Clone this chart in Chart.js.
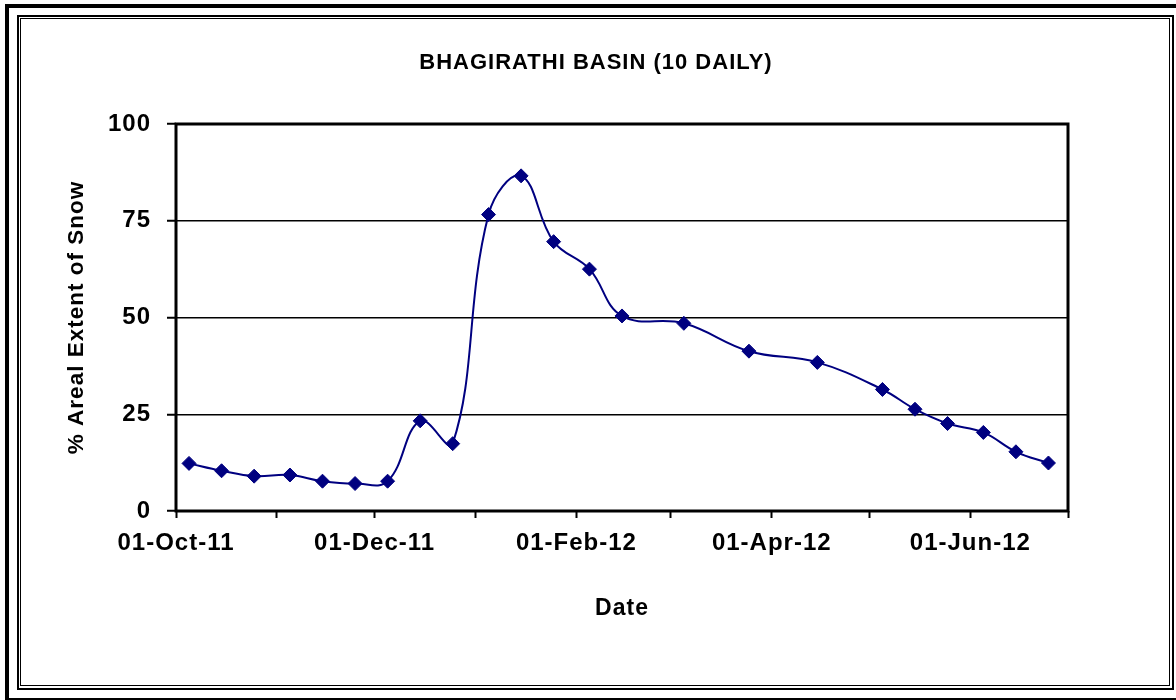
<!DOCTYPE html>
<html>
<head>
<meta charset="utf-8">
<title>Bhagirathi Basin snow cover</title>
<script src="https://cdn.jsdelivr.net/npm/chart.js@4/dist/chart.umd.min.js"></script>
<style>
  html, body { margin: 0; padding: 0; background: #fff; overflow: hidden; }
  body { width: 1176px; height: 700px; position: relative; }
  .frame { position: absolute; box-sizing: border-box; border-style: solid; border-color: #000; }
  #outer { left: 5px; top: 4px; width: 1200px; height: 696px; border-width: 4px 0 2px 4px; }
  #innerA { left: 17px; top: 15px; width: 1157px; height: 675px; border-width: 2px; }
  #innerB { left: 20px; top: 18px; width: 1150px; height: 668px; border-width: 1px; }
  #chart { position: absolute; left: 0; top: 0; }
</style>
</head>
<body>
<div class="frame" id="outer"></div>
<div class="frame" id="innerA"></div>
<div class="frame" id="innerB"></div>
<canvas id="chart" width="1176" height="700"></canvas>
<script>
// Ten-daily areal snow cover, Bhagirathi basin, Oct 2011 - Jun 2012
const chartTitle = 'BHAGIRATHI BASIN (10 DAILY)';
const startDate = '2011-10-01';
const obsDates = [
  '2011-10-05', '2011-10-15', '2011-10-25',
  '2011-11-05', '2011-11-15', '2011-11-25',
  '2011-12-05', '2011-12-15', '2011-12-25',
  '2012-01-05', '2012-01-15', '2012-01-25',
  '2012-02-05', '2012-02-15',
  '2012-03-05', '2012-03-25',
  '2012-04-15',
  '2012-05-05', '2012-05-15', '2012-05-25',
  '2012-06-05', '2012-06-15', '2012-06-25'
];
const snowCover = [
  12.3, 10.4, 9.0,
  9.3, 7.7, 7.1,
  7.7, 23.3, 17.4,
  76.6, 86.6, 69.6,
  62.5, 50.4,
  48.5, 41.3,
  38.4,
  31.4, 26.3, 22.6,
  20.3, 15.3, 12.4
];
const tickDates = [
  '2011-10-01', '2011-11-01', '2011-12-01', '2012-01-01', '2012-02-01',
  '2012-03-01', '2012-04-01', '2012-05-01', '2012-06-01', '2012-07-01'
];
const tickLabels = [
  '01-Oct-11', '', '01-Dec-11', '', '01-Feb-12',
  '', '01-Apr-12', '', '01-Jun-12', ''
];
const yMin = 0, yMax = 100, yStep = 25;

const dayOf = d => (Date.parse(d) - Date.parse(startDate)) / 864e5;
const tickDays = tickDates.map(dayOf);
const points = obsDates.map((d, i) => ({ x: dayOf(d), y: snowCover[i] }));

const FONT = '"Liberation Sans", Arial, sans-serif';

// Letter spacing for every text run, the black plot frame, and the title
// centred over the whole framed chart object.
const chartDecor = {
  id: 'chartDecor',
  beforeDraw(chart) {
    chart.ctx.letterSpacing = '1px';
  },
  beforeDatasetsDraw(chart) {
    const { ctx, chartArea: a } = chart;
    ctx.save();
    ctx.strokeStyle = '#000';
    ctx.lineWidth = 3;
    ctx.strokeRect(a.left, a.top, a.right - a.left, a.bottom - a.top);
    ctx.restore();
  },
  afterDraw(chart, args, opts) {
    const { ctx } = chart;
    ctx.save();
    ctx.font = `bold ${opts.size}px ${FONT}`;
    ctx.fillStyle = '#000';
    ctx.textAlign = 'center';
    ctx.textBaseline = 'middle';
    ctx.fillText(opts.text, opts.x, opts.y);
    ctx.restore();
  }
};

new Chart(document.getElementById('chart'), {
  type: 'line',
  data: {
    datasets: [{
      label: 'Snow cover',
      data: points,
      borderColor: '#000080',
      backgroundColor: '#000080',
      borderWidth: 2,
      tension: 0.4,
      pointStyle: 'rectRot',
      pointRadius: 7,
      pointHoverRadius: 7,
      pointBackgroundColor: '#000080',
      pointBorderColor: '#000080',
      pointBorderWidth: 1
    }]
  },
  options: {
    responsive: false,
    animation: false,
    devicePixelRatio: 1,
    layout: { padding: { left: 50, right: 108, top: 124, bottom: 78 } },
    plugins: {
      legend: { display: false },
      tooltip: { enabled: false },
      title: { display: false },
      chartDecor: { text: chartTitle, size: 22, x: 596, y: 63 }
    },
    scales: {
      x: {
        type: 'linear',
        min: tickDays[0],
        max: tickDays[tickDays.length - 1],
        afterBuildTicks: s => { s.ticks = tickDays.map(v => ({ value: v })); },
        afterFit: s => { s.height = 111; },
        border: { display: false },
        grid: {
          drawOnChartArea: false,
          drawTicks: true,
          tickLength: 7,
          tickWidth: 2,
          tickColor: '#000'
        },
        ticks: {
          autoSkip: false,
          maxRotation: 0,
          minRotation: 0,
          padding: 11,
          color: '#000',
          font: { family: FONT, size: 24, weight: 'bold' },
          callback: (v, i) => tickLabels[i]
        },
        title: {
          display: true,
          text: 'Date',
          color: '#000',
          font: { family: FONT, size: 23, weight: 'bold', lineHeight: 1.2 },
          padding: { top: 0, bottom: 0 }
        }
      },
      y: {
        min: yMin,
        max: yMax,
        afterFit: s => { s.width = 126; },
        border: { display: false },
        grid: {
          color: '#000',
          lineWidth: 1.5,
          drawTicks: true,
          tickLength: 9,
          tickWidth: 2,
          tickColor: '#000'
        },
        ticks: {
          stepSize: yStep,
          padding: 16,
          color: '#000',
          font: { family: FONT, size: 24, weight: 'bold' }
        },
        title: {
          display: true,
          text: '% Areal Extent of Snow',
          color: '#000',
          font: { family: FONT, size: 22.5, weight: 'bold', lineHeight: 1.2 },
          padding: { top: 13, bottom: 0 }
        }
      }
    }
  },
  plugins: [chartDecor]
});
</script>
</body>
</html>
